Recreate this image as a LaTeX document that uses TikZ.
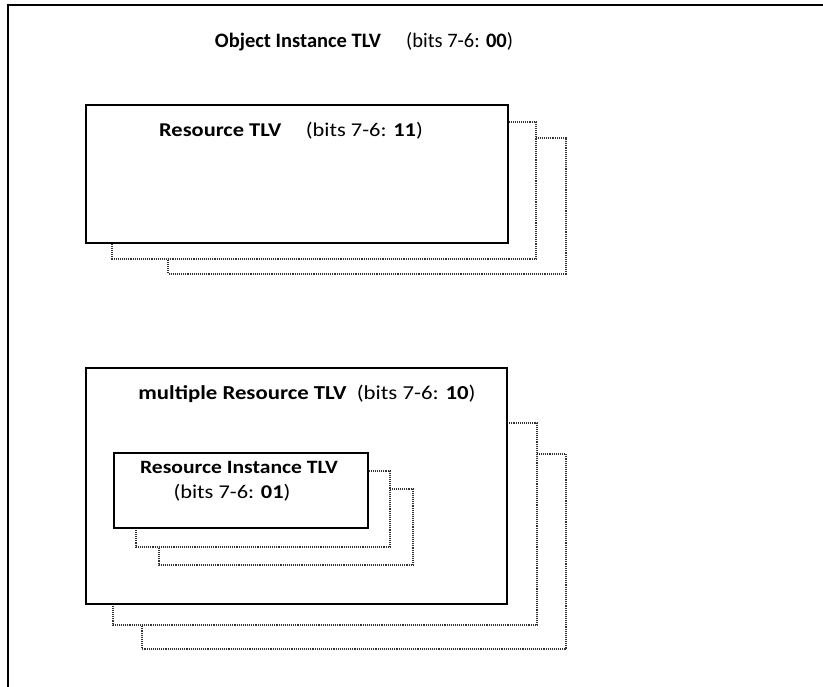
\documentclass[tikz,border=0pt]{standalone}
\usepackage{fontspec}
\setmainfont{Carlito}
\newfontfamily\tlvfont[FakeStretch=1.15]{Carlito}
\usetikzlibrary{positioning}

\begin{document}
\begin{tikzpicture}[x=1pt, y=-1pt,
    tlvbox/.style={draw=black, line width=1.6pt, fill=white, inner sep=0pt, anchor=north west},
    tlvcopy/.style={draw=black!80, densely dotted, line width=1.1pt, fill=white},
    tlvlabel/.style={font=\tlvfont\fontsize{19.5}{24}\selectfont, inner sep=0pt, align=center}]

    \useasboundingbox (0,0) rectangle (823,687);

    % Object Instance frame (runs off to the right and bottom)
    \draw [line width=1.6pt] (8,687) -- (8,5) -- (823,5);
    \node [font=\fontsize{20.5}{24}\selectfont, inner sep=0pt] (objtitle) at (364,42) {\textbf{Object Instance TLV}\quad\ (bits 7-6: \textbf{00})};

    % Resource TLV with two copies behind it
    \draw [tlvcopy] (168,138) rectangle (566,274);
    \draw [tlvcopy] (112,122) rectangle (536,259);
    \node [tlvbox, minimum width=422pt, minimum height=138pt] (res) at (85,104) {};
    \node [tlvlabel] (reslabel) at (291,131) {\textbf{Resource TLV}\quad\ (bits 7-6: \textbf{11})};

    % multiple Resource TLV with two copies behind it
    \draw [tlvcopy] (142,454) rectangle (566,649);
    \draw [tlvcopy] (113,423) rectangle (537,625);
    \node [tlvbox, minimum width=421pt, minimum height=236pt] (multi) at (85,367) {};
    \node [tlvlabel, font=\tlvfont\fontsize{19.8}{24}\selectfont] (multilabel) at (307,394) {\textbf{multiple Resource TLV}\ \ (bits 7-6: \textbf{10})};

    % Resource Instance TLV inside, again with two copies
    \draw [tlvcopy] (159,489) rectangle (413,565);
    \draw [tlvcopy] (136,471) rectangle (390,547);
    \node [tlvbox, minimum width=254pt, minimum height=75pt] (inst) at (113,452) {};
    \node [tlvlabel, font=\tlvfont\fontsize{18.8}{22}\selectfont] (instlabel) at (239,467) {\textbf{Resource Instance TLV}};
    \node [tlvlabel] (instbits) at (232,493) {(bits 7-6: \textbf{01})};
\end{tikzpicture}
\end{document}
